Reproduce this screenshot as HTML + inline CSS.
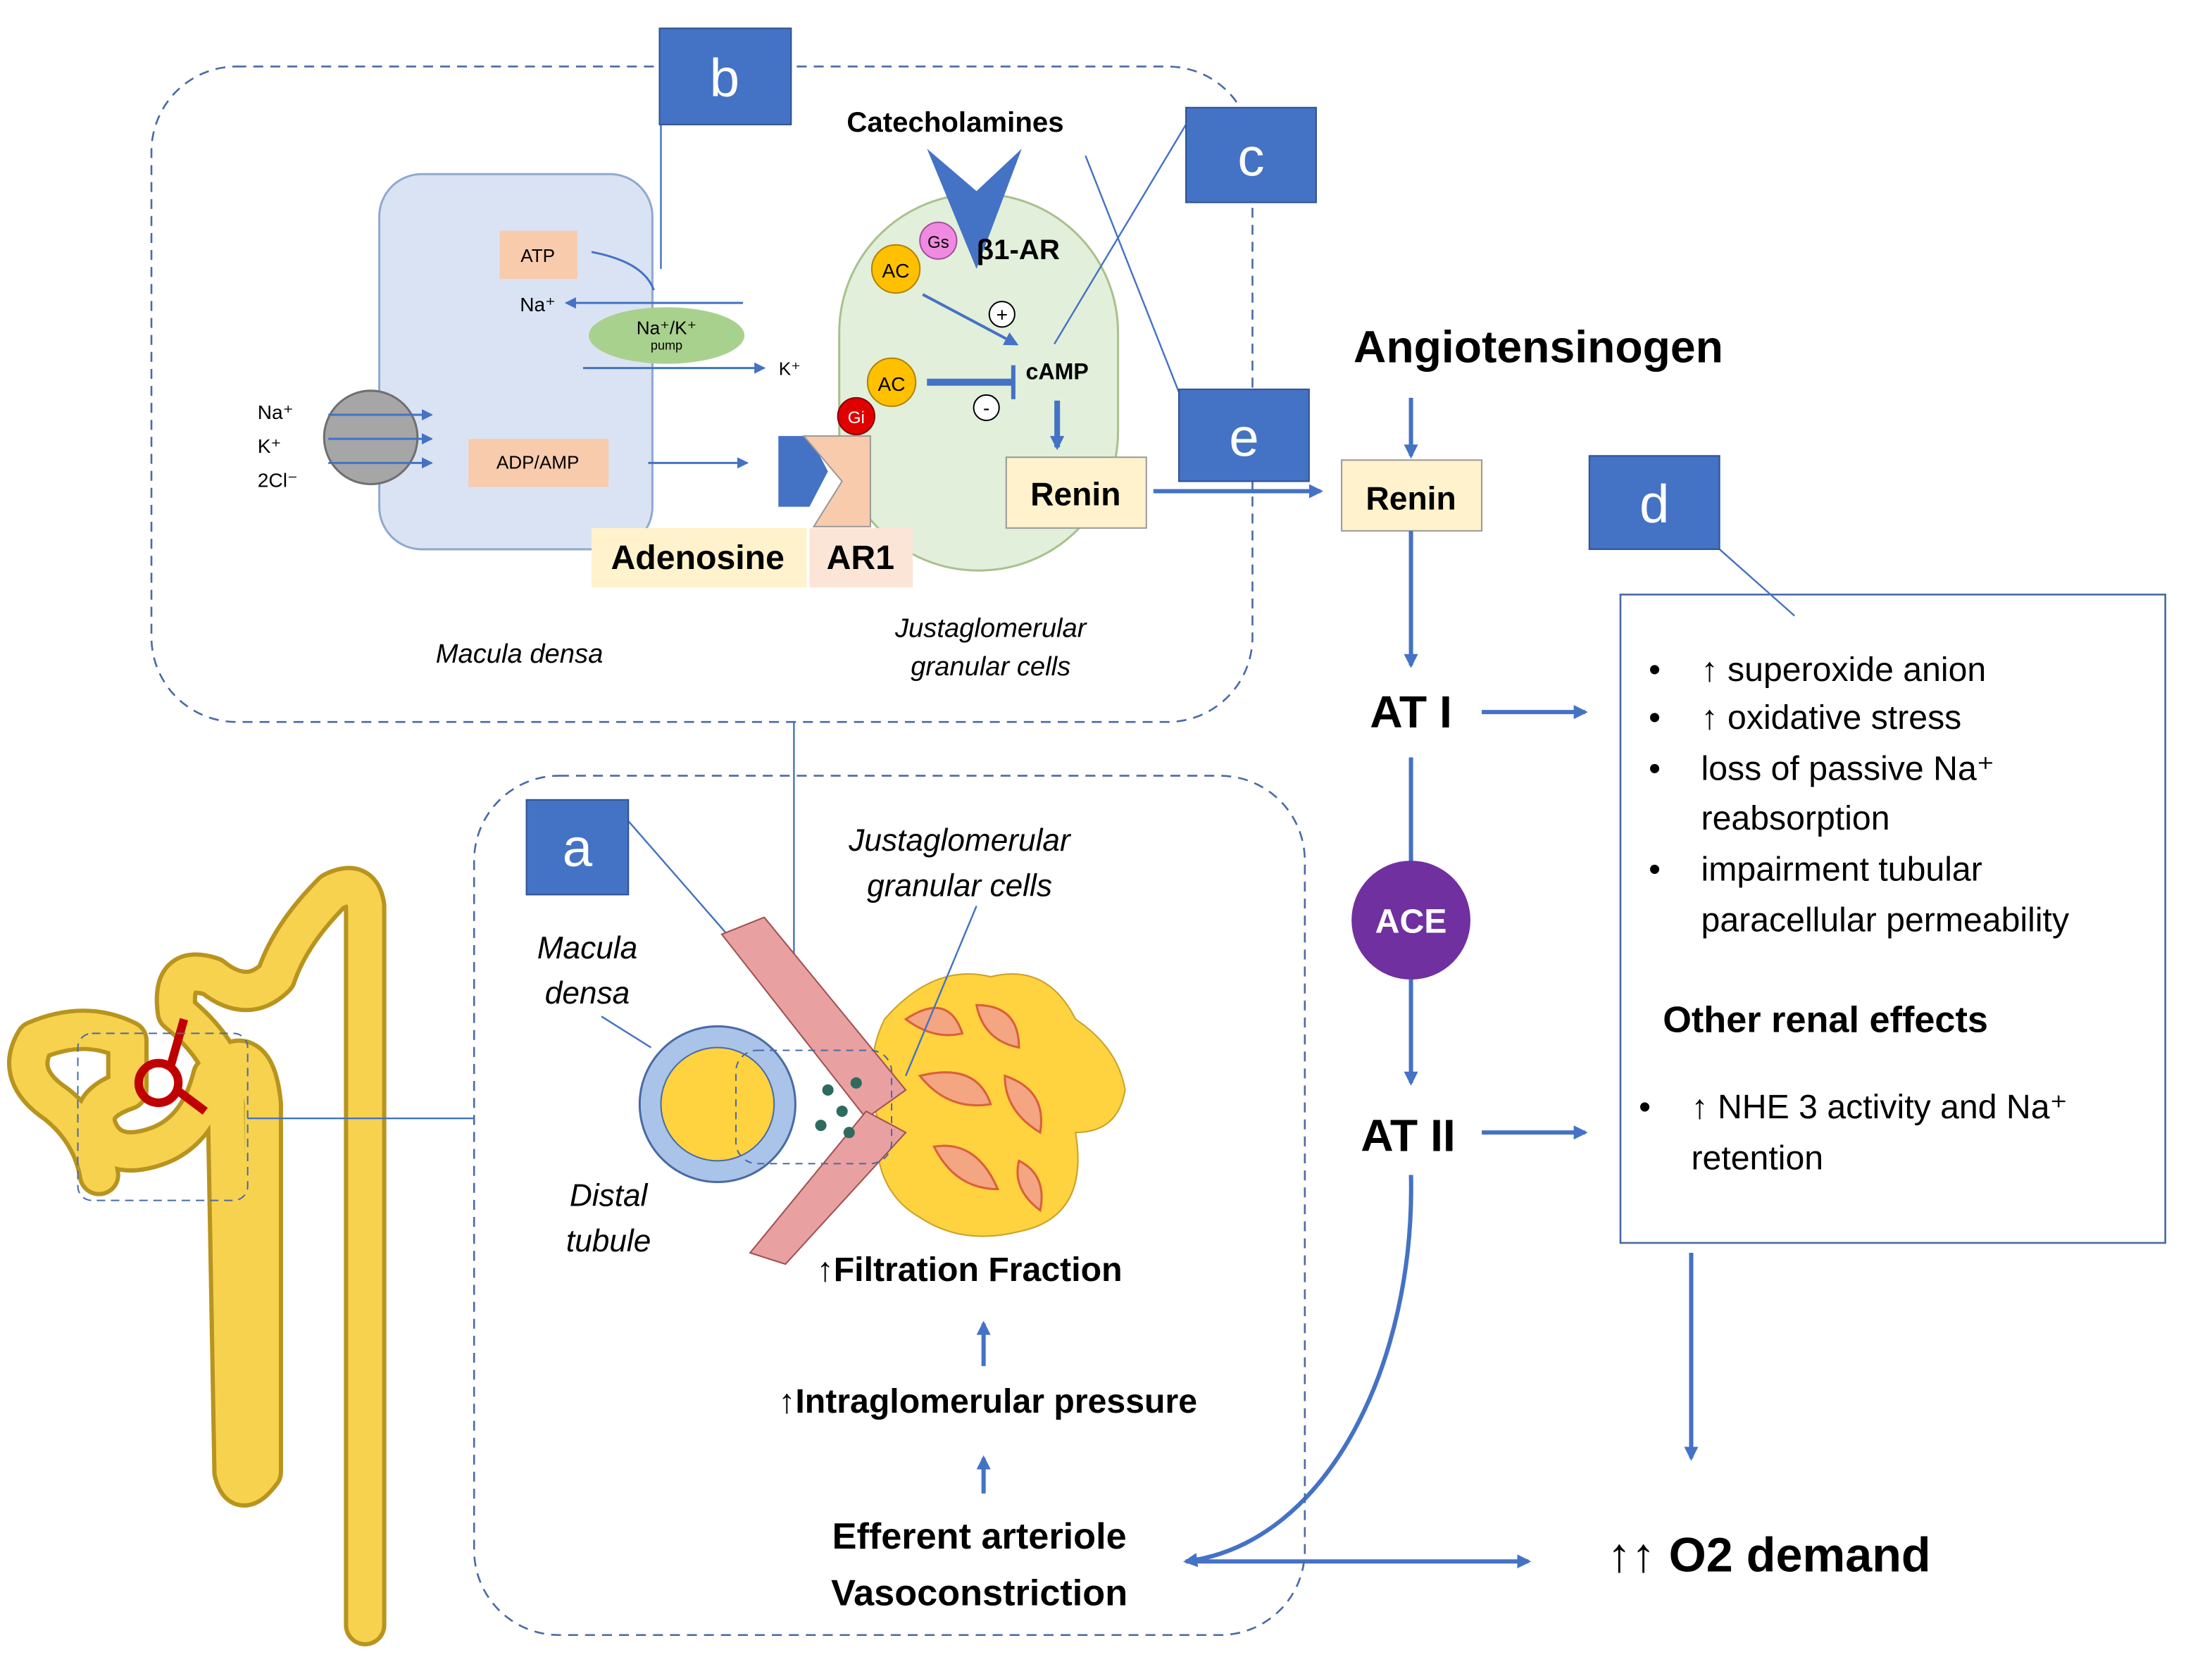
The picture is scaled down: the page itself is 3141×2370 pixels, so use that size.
<!DOCTYPE html>
<html><head><meta charset="utf-8"><style>
html,body{margin:0;padding:0;background:#fff}
svg{display:block}
text{font-family:"Liberation Sans",sans-serif}
</style></head><body>
<svg width="3141" height="2370" viewBox="0 0 1563 1179" preserveAspectRatio="none" xmlns="http://www.w3.org/2000/svg">
<defs>
<marker id="ar" markerWidth="10" markerHeight="10" refX="8" refY="5" orient="auto" markerUnits="userSpaceOnUse"><path d="M0,0 L10,5 L0,10 z" fill="#4472c4"/></marker>
<marker id="ars" markerWidth="8" markerHeight="8" refX="7" refY="4" orient="auto" markerUnits="userSpaceOnUse"><path d="M0,0 L8,4 L0,8 z" fill="#4472c4"/></marker>
<marker id="arb" markerWidth="16" markerHeight="16" refX="14" refY="8" orient="auto" markerUnits="userSpaceOnUse"><path d="M0,0 L16,8 L0,16 z" fill="#4472c4"/></marker>
</defs>
<rect width="1563" height="1179" fill="#fff"/>
<!-- top dashed panel -->
<rect x="107" y="47" width="778" height="463" rx="60" fill="none" stroke="#4a6aa5" stroke-width="1.3" stroke-dasharray="7,5"/>
<!-- macula densa cell -->
<rect x="268" y="123" width="193" height="265" rx="30" fill="#dae3f3" stroke="#8fa9d0" stroke-width="1.5"/>
<rect x="353" y="163" width="55" height="34" fill="#f8cbad"/>
<text x="380" y="185" font-size="13" text-anchor="middle">ATP</text>
<text x="380" y="220" font-size="14" text-anchor="middle">Na⁺</text>
<path d="M418,178 Q455,185 462,205" fill="none" stroke="#4472c4" stroke-width="1.5"/>
<line x1="525" y1="214" x2="400" y2="214" stroke="#4472c4" stroke-width="1.5" marker-end="url(#ars)"/>
<ellipse cx="471" cy="237" rx="55" ry="20" fill="#a9d18e"/>
<text x="471" y="236" font-size="13" text-anchor="middle">Na⁺/K⁺</text>
<text x="471" y="247" font-size="9" text-anchor="middle">pump</text>
<line x1="412" y1="260" x2="540" y2="260" stroke="#4472c4" stroke-width="1.5" marker-end="url(#ars)"/>
<text x="558" y="265" font-size="13" text-anchor="middle">K⁺</text>
<rect x="331" y="310" width="99" height="34" fill="#f8cbad"/>
<text x="380" y="331" font-size="13" text-anchor="middle">ADP/AMP</text>
<line x1="458" y1="327" x2="528" y2="327" stroke="#4472c4" stroke-width="1.5" marker-end="url(#ars)"/>
<circle cx="262" cy="309" r="33" fill="#a6a6a6" stroke="#6f6f6f" stroke-width="1.5"/>
<line x1="232" y1="293" x2="305" y2="293" stroke="#4472c4" stroke-width="1.5" marker-end="url(#ars)"/>
<line x1="232" y1="310" x2="305" y2="310" stroke="#4472c4" stroke-width="1.5" marker-end="url(#ars)"/>
<line x1="232" y1="327" x2="305" y2="327" stroke="#4472c4" stroke-width="1.5" marker-end="url(#ars)"/>
<text x="182" y="296" font-size="14">Na⁺</text>
<text x="182" y="320" font-size="14">K⁺</text>
<text x="182" y="344" font-size="14">2Cl⁻</text>
<!-- JG cell -->
<rect x="593" y="137" width="197" height="266" rx="98" fill="#e2efda" stroke="#a9c08e" stroke-width="1.5"/>
<text x="675" y="93" font-size="20" font-weight="bold" text-anchor="middle">Catecholamines</text>
<path d="M655,105 L690,135 L722,105 L690,190 z" fill="#4472c4"/>
<circle cx="633" cy="190" r="17" fill="#ffc000" stroke="#b08300"/>
<text x="633" y="196" font-size="14" text-anchor="middle">AC</text>
<circle cx="663" cy="170" r="13" fill="#f08ae0" stroke="#a050a0"/>
<text x="663" y="175" font-size="12" text-anchor="middle">Gs</text>
<text x="690" y="183" font-size="20" font-weight="bold">β1-AR</text>
<line x1="652" y1="208" x2="718" y2="243" stroke="#4472c4" stroke-width="2" marker-end="url(#ar)"/>
<circle cx="708" cy="222" r="9" fill="#fff" stroke="#000"/>
<text x="708" y="227" font-size="14" text-anchor="middle">+</text>
<circle cx="630" cy="270" r="17" fill="#ffc000" stroke="#b08300"/>
<text x="630" y="276" font-size="14" text-anchor="middle">AC</text>
<circle cx="605" cy="294" r="13" fill="#e00000" stroke="#800"/>
<text x="605" y="299" font-size="12" text-anchor="middle" fill="#fff">Gi</text>
<line x1="655" y1="270" x2="715" y2="270" stroke="#4472c4" stroke-width="5"/>
<line x1="716" y1="258" x2="716" y2="282" stroke="#4472c4" stroke-width="3"/>
<circle cx="697" cy="288" r="9" fill="#fff" stroke="#000"/>
<text x="697" y="293" font-size="14" text-anchor="middle">-</text>
<text x="747" y="268" font-size="16" font-weight="bold" text-anchor="middle">cAMP</text>
<line x1="747" y1="283" x2="747" y2="316" stroke="#4472c4" stroke-width="4" marker-end="url(#ar)"/>
<rect x="711" y="323" width="99" height="50" fill="#fff2cc" stroke="#999"/>
<text x="760" y="357" font-size="23" font-weight="bold" text-anchor="middle">Renin</text>
<!-- receptors -->
<path d="M550,308 L572,308 L585,333 L572,358 L550,358 z" fill="#4472c4"/>
<path d="M568,308 L615,308 L615,372 L575,372 L595,340 z" fill="#f8cbad" stroke="#999"/>
<rect x="418" y="373" width="152" height="42" fill="#fff2cc"/>
<text x="493" y="402" font-size="24" font-weight="bold" text-anchor="middle">Adenosine</text>
<rect x="572" y="373" width="73" height="42" fill="#fbe5d6"/>
<text x="608" y="402" font-size="24" font-weight="bold" text-anchor="middle">AR1</text>
<text x="367" y="468" font-size="19" font-style="italic" text-anchor="middle">Macula densa</text>
<text x="700" y="450" font-size="19" font-style="italic" text-anchor="middle">Justaglomerular</text>
<text x="700" y="477" font-size="19" font-style="italic" text-anchor="middle">granular cells</text>
<!-- b c e -->
<line x1="467" y1="88" x2="467" y2="190" stroke="#4472c4" stroke-width="1.2"/>
<rect x="466" y="20" width="93" height="68" fill="#4472c4" stroke="#2f528f"/>
<text x="512" y="68" font-size="38" fill="#fff" text-anchor="middle">b</text>
<line x1="838" y1="88" x2="745" y2="243" stroke="#4472c4" stroke-width="1.2"/>
<line x1="767" y1="110" x2="833" y2="277" stroke="#4472c4" stroke-width="1.2"/>
<rect x="838" y="76" width="92" height="67" fill="#4472c4" stroke="#2f528f"/>
<text x="884" y="124" font-size="38" fill="#fff" text-anchor="middle">c</text>
<rect x="833" y="275" width="92" height="65" fill="#4472c4" stroke="#2f528f"/>
<text x="879" y="322" font-size="38" fill="#fff" text-anchor="middle">e</text>
<line x1="815" y1="347" x2="933" y2="347" stroke="#4472c4" stroke-width="3" marker-end="url(#ar)"/>
<!-- RAS -->
<text x="1087" y="256" font-size="32" font-weight="bold" text-anchor="middle">Angiotensinogen</text>
<line x1="997" y1="281" x2="997" y2="322" stroke="#4472c4" stroke-width="3" marker-end="url(#ar)"/>
<rect x="948" y="325" width="99" height="50" fill="#fff2cc" stroke="#999"/>
<text x="997" y="360" font-size="23" font-weight="bold" text-anchor="middle">Renin</text>
<line x1="997" y1="375" x2="997" y2="470" stroke="#4472c4" stroke-width="3" marker-end="url(#ar)"/>
<text x="997" y="514" font-size="32" font-weight="bold" text-anchor="middle">AT I</text>
<line x1="1047" y1="503" x2="1120" y2="503" stroke="#4472c4" stroke-width="3" marker-end="url(#ar)"/>
<line x1="997" y1="535" x2="997" y2="610" stroke="#4472c4" stroke-width="3"/>
<circle cx="997" cy="650" r="42" fill="#7030a0"/>
<text x="997" y="659" font-size="24" font-weight="bold" fill="#fff" text-anchor="middle">ACE</text>
<line x1="997" y1="692" x2="997" y2="765" stroke="#4472c4" stroke-width="3" marker-end="url(#ar)"/>
<text x="995" y="813" font-size="32" font-weight="bold" text-anchor="middle">AT II</text>
<line x1="1047" y1="800" x2="1120" y2="800" stroke="#4472c4" stroke-width="3" marker-end="url(#ar)"/>
<!-- d -->
<rect x="1145" y="420" width="385" height="458" fill="#fff" stroke="#4a6aa5" stroke-width="1.3"/>
<line x1="1215" y1="388" x2="1268" y2="435" stroke="#4472c4" stroke-width="1.2"/>
<rect x="1123" y="322" width="92" height="66" fill="#4472c4" stroke="#2f528f"/>
<text x="1169" y="369" font-size="38" fill="#fff" text-anchor="middle">d</text>
<g font-size="24">
<text x="1165" y="481">•</text><text x="1202" y="481">↑ superoxide anion</text>
<text x="1165" y="515">•</text><text x="1202" y="515">↑ oxidative stress</text>
<text x="1165" y="551">•</text><text x="1202" y="551">loss of passive Na⁺</text>
<text x="1202" y="586">reabsorption</text>
<text x="1165" y="622">•</text><text x="1202" y="622">impairment tubular</text>
<text x="1202" y="658">paracellular permeability</text>
<text x="1175" y="729" font-weight="bold" font-size="26">Other renal effects</text>
<text x="1158" y="790">•</text><text x="1195" y="790">↑ NHE 3 activity and Na⁺</text>
<text x="1195" y="826">retention</text>
</g>
<line x1="1195" y1="885" x2="1195" y2="1030" stroke="#4472c4" stroke-width="3" marker-end="url(#ar)"/>
<text x="1250" y="1110" font-size="34" font-weight="bold" text-anchor="middle">↑↑ O2 demand</text>
<path d="M997,830 C1000,960 940,1090 838,1103" fill="none" stroke="#4472c4" stroke-width="3" marker-end="url(#ar)"/>
<line x1="838" y1="1103" x2="1080" y2="1103" stroke="#4472c4" stroke-width="3" marker-end="url(#ar)"/>
<!-- bottom panel -->
<rect x="335" y="548" width="587" height="607" rx="60" fill="none" stroke="#4a6aa5" stroke-width="1.3" stroke-dasharray="7,5"/>
<line x1="561" y1="510" x2="561" y2="710" stroke="#4472c4" stroke-width="1.2"/>
<line x1="444" y1="580" x2="540" y2="690" stroke="#4472c4" stroke-width="1.2"/>
<!-- glomerulus illustration -->
<path d="M625,720 Q660,680 700,690 Q740,680 760,720 Q790,740 795,770 Q790,800 760,800 Q770,860 720,870 Q680,880 650,860 Q615,840 620,790 Q610,750 625,720z" fill="#ffd23f" stroke="#c9a227"/>
<g fill="#f4a582" stroke="#d9603b" stroke-width="1.5">
<path d="M640,720 q30,-20 40,10 q-20,5 -40,-10z"/><path d="M690,710 q30,0 30,30 q-25,-5 -30,-30z"/>
<path d="M650,760 q40,-10 50,20 q-30,5 -50,-20z"/><path d="M710,760 q30,10 25,40 q-25,-15 -25,-40z"/>
<path d="M660,810 q30,-5 45,30 q-30,0 -45,-30z"/><path d="M720,820 q20,10 15,35 q-20,-15 -15,-35z"/>
</g>
<path d="M510,660 L540,648 L640,770 L612,790z" fill="#e8a0a0" stroke="#a05050"/>
<path d="M530,885 L555,893 L640,800 L612,785z" fill="#e8a0a0" stroke="#a05050"/>
<circle cx="507" cy="780" r="55" fill="#a9c4e8" stroke="#4a6aa5" stroke-width="1.5"/>
<circle cx="507" cy="780" r="40" fill="#ffd23f" stroke="#4a6aa5"/>
<g fill="#2e6b5e"><circle cx="585" cy="770" r="4"/><circle cx="595" cy="785" r="4"/><circle cx="580" cy="795" r="4"/><circle cx="605" cy="765" r="4"/><circle cx="600" cy="800" r="4"/></g>
<rect x="520" y="742" width="110" height="80" rx="15" fill="none" stroke="#4a6aa5" stroke-dasharray="5,4"/>
<line x1="460" y1="740" x2="425" y2="718" stroke="#4472c4" stroke-width="1.2"/>
<line x1="640" y1="760" x2="690" y2="640" stroke="#4472c4" stroke-width="1.2"/>
<rect x="372" y="565" width="72" height="67" fill="#4472c4" stroke="#2f528f"/>
<text x="408" y="612" font-size="38" fill="#fff" text-anchor="middle">a</text>
<g font-size="22" font-style="italic" text-anchor="middle">
<text x="678" y="601">Justaglomerular</text><text x="678" y="633">granular cells</text>
<text x="415" y="677">Macula</text><text x="415" y="709">densa</text>
<text x="430" y="852">Distal</text><text x="430" y="884">tubule</text>
</g>
<text x="685" y="905" font-size="24" font-weight="bold" text-anchor="middle">↑Filtration Fraction</text>
<line x1="695" y1="965" x2="695" y2="935" stroke="#4472c4" stroke-width="3" marker-end="url(#ar)"/>
<text x="698" y="998" font-size="24" font-weight="bold" text-anchor="middle">↑Intraglomerular pressure</text>
<line x1="695" y1="1055" x2="695" y2="1030" stroke="#4472c4" stroke-width="3" marker-end="url(#ar)"/>
<text x="692" y="1094" font-size="26" font-weight="bold" text-anchor="middle">Efferent arteriole</text>
<text x="692" y="1134" font-size="26" font-weight="bold" text-anchor="middle">Vasoconstriction</text>
<!-- nephron -->
<g fill="none" stroke-linecap="round" stroke-linejoin="round">
<path d="M258,1148 L258,640 Q255,620 235,630 Q205,660 195,690 Q175,710 150,690 Q120,680 125,715 Q150,735 160,760 L165,1040 Q170,1060 185,1040 L185,780 Q180,730 150,760 Q140,800 110,810 Q80,820 70,800 Q60,780 90,770 L90,735 Q60,720 25,735 Q10,760 40,780 Q65,800 70,830" stroke="#b8941f" stroke-width="30"/>
<path d="M258,1148 L258,640 Q255,620 235,630 Q205,660 195,690 Q175,710 150,690 Q120,680 125,715 Q150,735 160,760 L165,1040 Q170,1060 185,1040 L185,780 Q180,730 150,760 Q140,800 110,810 Q80,820 70,800 Q60,780 90,770 L90,735 Q60,720 25,735 Q10,760 40,780 Q65,800 70,830" stroke="#f7d24f" stroke-width="24"/>
</g>
<g stroke="#c00000" stroke-width="6" fill="none"><circle cx="112" cy="765" r="14"/><path d="M120,755 L130,720 M125,770 L145,785"/></g>
<rect x="55" y="730" width="120" height="118" rx="10" fill="none" stroke="#4a6aa5" stroke-dasharray="6,4"/>
<line x1="175" y1="790" x2="335" y2="790" stroke="#4472c4" stroke-width="1.2"/>
</svg>
</body></html>
